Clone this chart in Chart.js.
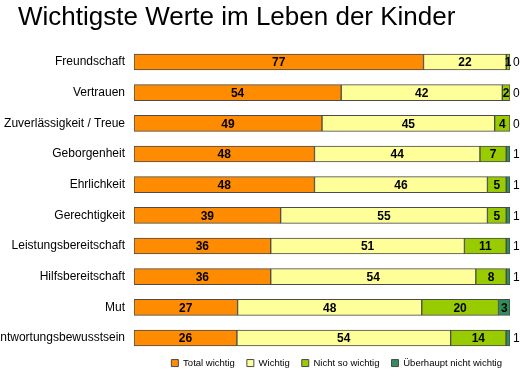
<!DOCTYPE html>
<html>
<head>
<meta charset="utf-8">
<script src="https://cdn.jsdelivr.net/npm/chart.js@4/dist/chart.umd.min.js"></script>
<style>
  html, body { margin: 0; padding: 0; background: #fff; }
  #wrap { width: 523px; height: 378px; position: relative; }
</style>
</head>
<body>
<div id="wrap"><canvas id="c" width="523" height="378"></canvas></div>
<script>
const categories = [
  "Freundschaft",
  "Vertrauen",
  "Zuverlässigkeit / Treue",
  "Geborgenheit",
  "Ehrlichkeit",
  "Gerechtigkeit",
  "Leistungsbereitschaft",
  "Hilfsbereitschaft",
  "Mut",
  "Verantwortungsbewusstsein"
];
const seriesNames = ["Total wichtig", "Wichtig", "Nicht so wichtig", "Überhaupt nicht wichtig"];
const totalWichtig      = [77, 54, 49, 48, 48, 39, 36, 36, 27, 26];
const wichtig           = [22, 42, 45, 44, 46, 55, 51, 54, 48, 54];
const nichtSoWichtig    = [ 1,  2,  4,  7,  5,  5, 11,  8, 20, 14];
const ueberhauptNicht   = [ 0,  0,  0,  1,  1,  1,  1,  1,  3,  1];

const seriesValues = [totalWichtig, wichtig, nichtSoWichtig, ueberhauptNicht];
const seriesColors = ["#FF8C00", "#FFFF99", "#99CC00", "#2F8F5B"];

// 100% stacked: each row scaled to its own total
const rowTotals = categories.map((_, i) => seriesValues.reduce((s, arr) => s + arr[i], 0));

const FONT = "'Liberation Sans', Arial, sans-serif";

const segLabels = {
  id: 'segLabels',
  afterDatasetsDraw(chart) {
    const ctx = chart.ctx;
    ctx.save();
    ctx.fillStyle = '#000';
    ctx.textBaseline = 'middle';
    chart.data.datasets.forEach((ds, di) => {
      const meta = chart.getDatasetMeta(di);
      meta.data.forEach((bar, i) => {
        const v = ds.rawValues[i];
        const w = Math.abs(bar.x - bar.base);
        if (di === 3 && w < 8) {
          ctx.font = "12px " + FONT;
          ctx.textAlign = 'left';
          ctx.fillText(String(v), Math.max(bar.x, bar.base) + 3, bar.y + 1);
        } else {
          ctx.font = "bold 12px " + FONT;
          ctx.textAlign = 'center';
          ctx.fillText(String(v), (bar.x + bar.base) / 2, bar.y + 1);
        }
      });
    });
    ctx.restore();
  }
};

// small position adjustments of title and legend after layout
const layoutTweaks = {
  id: 'layoutTweaks',
  afterLayout(chart) {
    if (chart.titleBlock) { chart.titleBlock.left = 18; }
    if (chart.legend) {
      chart.legend.top -= 7; chart.legend.bottom -= 7;
      chart.legend.left += 4; chart.legend.right += 4;
    }
  }
};

const datasets = seriesNames.map((name, k) => ({
  label: name,
  data: seriesValues[k].map((v, i) => v / rowTotals[i] * 100),
  rawValues: seriesValues[k],
  backgroundColor: seriesColors[k],
  borderColor: '#4a4a4a',
  borderWidth: 1,
  borderSkipped: false,
  barThickness: 16
}));

new Chart(document.getElementById('c'), {
  type: 'bar',
  data: { labels: categories, datasets },
  options: {
    indexAxis: 'y',
    responsive: false,
    animation: false,
    layout: { padding: { left: 0, right: 13, top: 0, bottom: 0 } },
    scales: {
      x: { stacked: true, min: 0, max: 100, display: false },
      y: {
        stacked: true,
        grid: { display: false, drawTicks: false },
        border: { display: false },
        ticks: { color: '#000', padding: 9, font: { family: FONT, size: 12 } },
        afterFit(scale) { scale.width = 134; }
      }
    },
    plugins: {
      title: {
        display: true,
        text: 'Wichtigste Werte im Leben der Kinder',
        align: 'start',
        color: '#000',
        font: { family: FONT, size: 26, weight: 'normal' },
        padding: { top: 2, bottom: 13.5 }
      },
      legend: {
        display: true,
        position: 'bottom',
        align: 'end',
        maxHeight: 24.7,
        labels: {
          color: '#000',
          boxWidth: 7,
          boxHeight: 7,
          padding: 12,
          font: { family: FONT, size: 9.5 },
          generateLabels(chart) {
            return chart.data.datasets.map((ds, i) => ({
              text: ds.label,
              fillStyle: ds.backgroundColor,
              strokeStyle: '#4a4a4a',
              lineWidth: 1,
              datasetIndex: i,
              hidden: false,
              fontColor: '#000'
            }));
          }
        }
      },
      tooltip: { enabled: false }
    }
  },
  plugins: [segLabels, layoutTweaks]
});
</script>
</body>
</html>
